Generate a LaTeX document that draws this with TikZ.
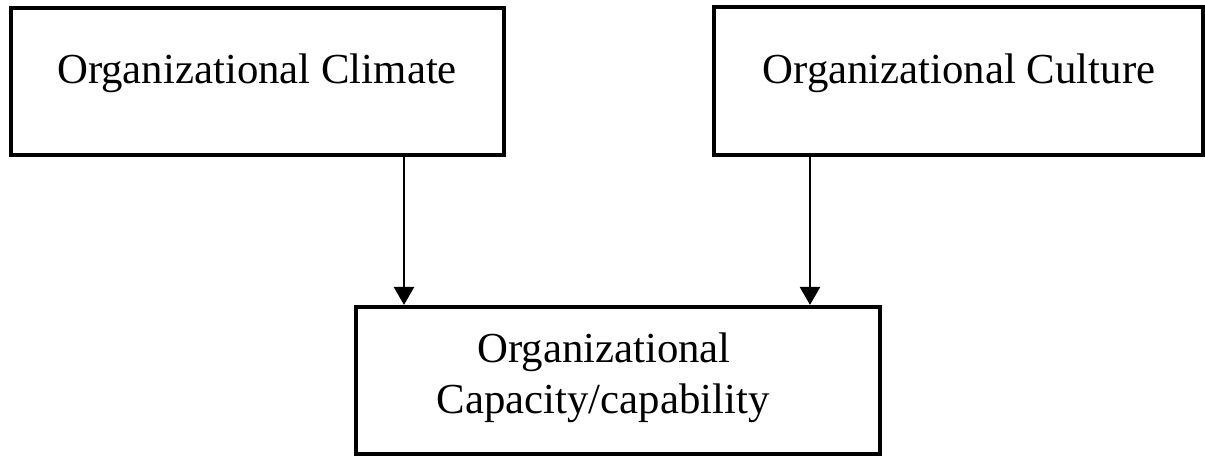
\documentclass[tikz,border=0pt]{standalone}
\usepackage{fontspec}
\setmainfont{Liberation Serif}
\usetikzlibrary{arrows.meta}
\begin{document}
\begin{tikzpicture}[x=0.5pt,y=-0.5pt,
  box/.style={draw=black, line width=2.1pt, rectangle, inner sep=0pt},
  txt/.style={font=\fontsize{21.4pt}{25pt}\selectfont, inner sep=0pt},
  link/.style={draw=black, line width=1.3pt, -{Triangle[width=10pt,length=9pt]}}]
  \useasboundingbox (0,0) rectangle (1205,457);
  % the three boxes
  \node[box, minimum width=246.5pt, minimum height=73.5pt] (climate) at (257.5,81.5) {};
  \node[box, minimum width=244.5pt, minimum height=74pt] (culture) at (958.5,81) {};
  \node[box, minimum width=262pt, minimum height=73.5pt] (capacity) at (618,380.5) {};
  % box texts
  \node[txt, anchor=base] (climateT) at (257,83) {Organizational Climate};
  \node[txt, anchor=base] (cultureT) at (959,83) {Organizational Culture};
  \node[txt, anchor=base] (capT1) at (604,362) {Organizational};
  \node[txt, anchor=base] (capT2) at (603,413) {Capacity/capability};
  % arrows into the lower box
  \coordinate (lx) at (404,0);
  \coordinate (rx) at (810,0);
  \draw[link] (climate.south -| lx) -- (capacity.north -| lx);
  \draw[link] (culture.south -| rx) -- (capacity.north -| rx);
\end{tikzpicture}
\end{document}
